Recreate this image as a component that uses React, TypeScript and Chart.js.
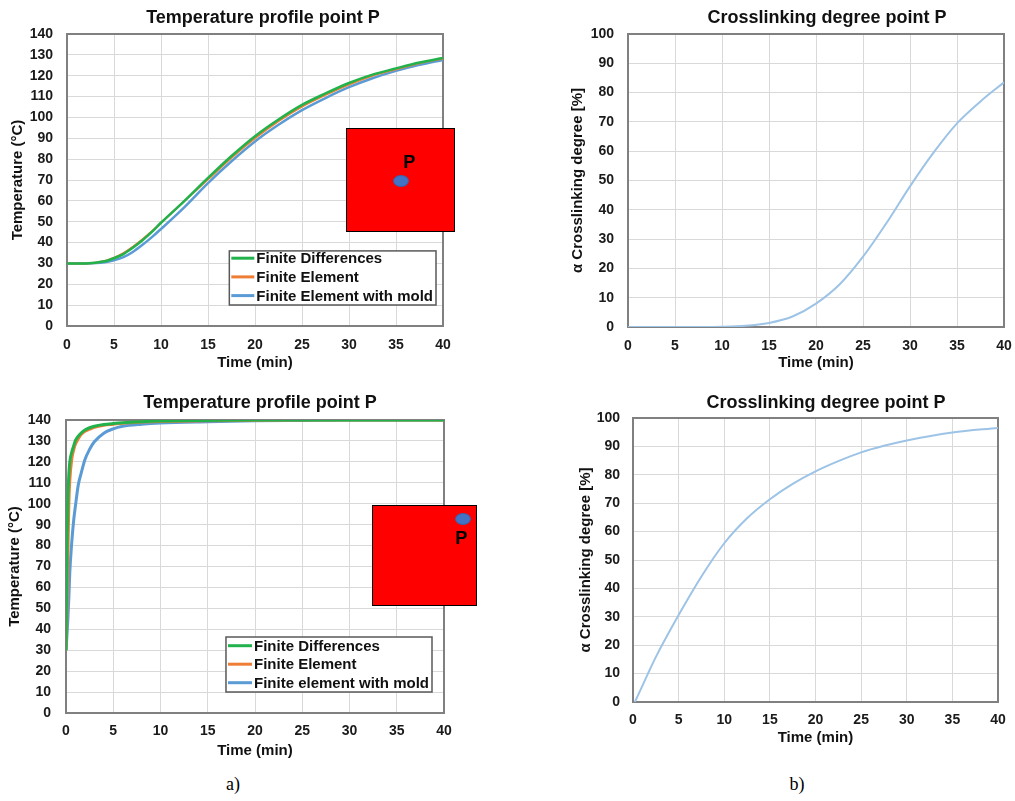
import React, { useEffect, useRef } from 'react';
import { Chart, registerables } from 'chart.js';

Chart.register(...registerables);

const FONT = '"Liberation Sans", Arial, Helvetica, sans-serif';

// ---------- a) top : temperature at inner point P ----------
const heatTimeTop = [0, 2, 4, 5, 6, 7, 8, 9, 10, 12.5, 15, 17.5, 20, 22.5, 25, 27.5, 30, 32.5, 35, 37.5, 40];
const finiteDiffTop = [30, 30, 31, 32.5, 34.5, 37.5, 41, 45, 49.5, 60, 71, 81.5, 91, 99, 106, 111.5, 116.5, 120.5, 123.5, 126.3, 128.5];
const finiteElemTop = [30, 30, 31.2, 32.8, 35, 38, 41.5, 45.3, 49.5, 60, 70.3, 80.7, 90, 98.2, 105.2, 110.8, 115.8, 120, 123.1, 126, 128.2];
const finiteMoldTop = [30, 30, 30.5, 31.5, 33, 35.5, 38.8, 42.5, 46.5, 57, 68.5, 79, 88.5, 96.5, 103.5, 109.3, 114.5, 118.8, 122.3, 125.2, 127.6];

// ---------- b) top : crosslinking degree at inner point P ----------
const cureTimeTop = [0, 5, 10, 12.5, 15, 17.5, 20, 22.5, 25, 27.5, 30, 32.5, 35, 37.5, 40];
const cureTop = [0, 0, 0.1, 0.4, 1.4, 3.6, 8, 14.5, 24, 35.5, 48, 59.5, 69.5, 77, 83.5];

// ---------- a) bottom : temperature at corner point P ----------
const heatTimeBottom = [0, 0.1, 0.2, 0.3, 0.4, 0.6, 0.8, 1, 1.3, 1.6, 2, 2.5, 3, 4, 5, 6, 8, 10, 15, 20, 25, 30, 35, 40];
const finiteDiffBottom = [30, 78, 103, 114, 120, 124.5, 127.5, 130.3, 132.3, 133.8, 135.2, 136.3, 137, 137.8, 138.3, 138.7, 139.2, 139.5, 139.8, 140, 140, 140, 140, 140];
const finiteElemBottom = [30, 50, 76, 100, 111, 121, 125.5, 128.5, 131, 133, 134.6, 135.6, 136.5, 137.5, 138, 138.5, 139, 139.3, 139.7, 139.9, 140, 140, 140, 140];
const finiteMoldBottom = [30, 37, 45, 55, 67, 81, 91.5, 99, 109, 114.5, 121, 126, 129.6, 133.7, 135.8, 137, 138, 138.6, 139.2, 139.6, 139.8, 140, 140, 140];

// ---------- b) bottom : crosslinking degree at corner point P ----------
const cureTimeBottom = [0.2, 1, 1.64, 2.5, 5, 7.5, 10, 12.5, 15, 17.5, 20, 22.5, 25, 27.5, 30, 35, 40];
const cureBottom = [0, 5.5, 10, 15.8, 30.6, 44.2, 55.9, 64.7, 71.4, 76.8, 81.2, 84.8, 87.9, 90.2, 92.1, 94.9, 96.5];

const labelsTop = ['Finite Differences', 'Finite Element', 'Finite Element with mold'];
const labelsBottom = ['Finite Differences', 'Finite Element', 'Finite element with mold'];

const GREEN = '#22b24c';
const ORANGE = '#ee7d35';
const BLUE = '#5b9bd5';
const LIGHTBLUE = '#9dc3e6';

const pts = (xs: number[], ys: number[]) => xs.map((x, i) => ({ x, y: ys[i] }));

const line = (label: string, xs: number[], ys: number[], color: string, width: number) => ({
  label,
  data: pts(xs, ys),
  borderColor: color,
  backgroundColor: color,
  borderWidth: width,
  pointRadius: 0,
  fill: false,
  cubicInterpolationMode: 'monotone' as const,
});

const framePlugin = {
  id: 'frame',
  beforeDatasetsDraw(chart: any) {
    const { ctx, chartArea: a } = chart;
    ctx.save();
    ctx.strokeStyle = '#808080';
    ctx.lineWidth = 2;
    ctx.strokeRect(a.left, a.top, a.right - a.left, a.bottom - a.top);
    ctx.restore();
  },
};

const titleShiftPlugin = {
  id: 'titleShift',
  afterLayout(chart: any, _args: any, opts: any) {
    const t = chart.titleBlock;
    const a = chart.chartArea;
    if (!t || !a) return;
    const s = (opts && opts.shift) || 0;
    t.left = a.left + s;
    t.right = a.right + s;
  },
};

const insideLegendPlugin = {
  id: 'insideLegend',
  afterDatasetsDraw(chart: any, _args: any, opts: any) {
    if (!opts || !opts.display) return;
    const { ctx, chartArea: a } = chart;
    const ds = chart.data.datasets;
    ctx.save();
    ctx.font = `bold 15px ${FONT}`;
    const tw = Math.max(...ds.map((d: any) => ctx.measureText(d.label).width));
    const w = opts.textX + tw + opts.padEnd;
    const h = opts.padTop + opts.rowH * (ds.length - 1) + opts.padBottom;
    const x1 = a.right - opts.right;
    const x0 = x1 - w;
    const y1 = a.bottom - opts.bottom;
    const y0 = y1 - h;
    ctx.fillStyle = '#ffffff';
    ctx.fillRect(x0, y0, w, h);
    ctx.strokeStyle = '#595959';
    ctx.lineWidth = 1.5;
    ctx.strokeRect(x0, y0, w, h);
    ds.forEach((d: any, i: number) => {
      const cy = y0 + opts.padTop + i * opts.rowH;
      ctx.strokeStyle = d.borderColor;
      ctx.lineWidth = 3;
      ctx.beginPath();
      ctx.moveTo(x0 + 2, cy);
      ctx.lineTo(x0 + opts.textX - 2, cy);
      ctx.stroke();
      ctx.fillStyle = '#111111';
      ctx.textBaseline = 'middle';
      ctx.textAlign = 'left';
      ctx.fillText(d.label, x0 + opts.textX, cy + 1);
    });
    ctx.restore();
  },
};

type PanelProps = {
  left: number;
  top: number;
  width: number;
  height: number;
  title: string;
  yTitle: string;
  yMax: number;
  datasets: any[];
  yWidth: number;
  xHeight: number;
  padRight: number;
  titlePad: { top: number; bottom: number };
  titleShift: number;
  yTitlePad: number;
  xTitlePad: number;
  yTickPad: number;
  xTickPad: number;
  legend?: any;
};

function Panel(p: PanelProps) {
  const ref = useRef<HTMLCanvasElement | null>(null);
  useEffect(() => {
    if (!ref.current) return;
    const tickFont = { family: FONT, size: 14, weight: 'bold' as const };
    const axisTitleFont = { family: FONT, size: 15, weight: 'bold' as const };
    const chart = new Chart(ref.current, {
      type: 'line',
      data: { datasets: p.datasets },
      plugins: [framePlugin, titleShiftPlugin, insideLegendPlugin],
      options: {
        animation: false,
        responsive: false,
        devicePixelRatio: 1,
        layout: { padding: { left: 0, right: p.padRight, top: 0, bottom: 0 } },
        plugins: {
          legend: { display: false },
          tooltip: { enabled: false },
          title: {
            display: true,
            text: p.title,
            color: '#111111',
            font: { family: FONT, size: 18, weight: 'bold' },
            padding: p.titlePad,
          },
          titleShift: { shift: p.titleShift },
          insideLegend: p.legend ? { display: true, ...p.legend } : { display: false },
        } as any,
        scales: {
          x: {
            type: 'linear',
            min: 0,
            max: 40,
            afterFit: (s: any) => {
              s.height = p.xHeight;
              s.paddingLeft = 0;
              s.paddingRight = 0;
            },
            ticks: { stepSize: 5, color: '#1a1a1a', font: tickFont, padding: p.xTickPad, maxRotation: 0 },
            grid: { color: '#d9d9d9', lineWidth: 1, drawTicks: false },
            border: { display: true, color: '#808080', width: 2 },
            title: { display: true, text: 'Time (min)', color: '#111111', font: axisTitleFont, padding: { top: 0, bottom: p.xTitlePad } },
          },
          y: {
            type: 'linear',
            min: 0,
            max: p.yMax,
            afterFit: (s: any) => {
              s.width = p.yWidth;
            },
            ticks: { stepSize: 10, color: '#1a1a1a', font: tickFont, padding: p.yTickPad },
            grid: { color: '#d9d9d9', lineWidth: 1, drawTicks: false },
            border: { display: true, color: '#808080', width: 2 },
            title: { display: true, text: p.yTitle, color: '#111111', font: axisTitleFont, padding: { top: p.yTitlePad, bottom: 0 } },
          },
        },
      },
    });
    return () => chart.destroy();
  }, []);
  return (
    <canvas
      ref={ref}
      width={p.width}
      height={p.height}
      style={{ position: 'absolute', left: p.left, top: p.top, width: p.width, height: p.height }}
    />
  );
}

function Inset(props: { left: number; top: number; w: number; h: number; dotX: number; dotY: number; pX: number; pY: number }) {
  const { left, top, w, h, dotX, dotY, pX, pY } = props;
  return (
    <div style={{ position: 'absolute', left, top, width: w, height: h, background: '#ff0000', border: '1.5px solid #000', boxSizing: 'border-box' }}>
      <div
        style={{
          position: 'absolute',
          left: dotX - 8,
          top: dotY - 6,
          width: 16,
          height: 12,
          borderRadius: '50%',
          background: '#4472c4',
          boxSizing: 'border-box',
          border: '1px solid #3a62a8',
        }}
      />
      <div
        style={{
          position: 'absolute',
          left: pX - 10,
          top: pY - 11,
          width: 20,
          height: 22,
          lineHeight: '22px',
          textAlign: 'center',
          font: `bold 18px ${FONT}`,
          color: '#000',
        }}
      >
        P
      </div>
    </div>
  );
}

export default function App() {
  const legendTop = { right: 7, bottom: 21, textX: 27, padEnd: 3, padTop: 7.3, rowH: 18.7, padBottom: 9.4 };
  const legendBottom = { right: 12, bottom: 21, textX: 28, padEnd: 3, padTop: 8.7, rowH: 18.5, padBottom: 9.3 };
  return (
    <div style={{ position: 'absolute', left: 0, top: 0, width: 1015, height: 801, background: '#ffffff', overflow: 'hidden' }}>
      <Panel
        left={0}
        top={0}
        width={465}
        height={375}
        title="Temperature profile point P"
        yTitle="Temperature (°C)"
        yMax={140}
        datasets={[
          line(labelsTop[0], heatTimeTop, finiteDiffTop, GREEN, 2.5),
          line(labelsTop[1], heatTimeTop, finiteElemTop, ORANGE, 2),
          line(labelsTop[2], heatTimeTop, finiteMoldTop, BLUE, 2.5),
        ]}
        yWidth={67}
        xHeight={49}
        padRight={22}
        titlePad={{ top: 7, bottom: 5.4 }}
        titleShift={8}
        yTitlePad={9}
        xTitlePad={3}
        yTickPad={14}
        xTickPad={11}
        legend={legendTop}
      />
      <Panel
        left={560}
        top={0}
        width={455}
        height={375}
        title="Crosslinking degree point P"
        yTitle="α Crosslinking degree [%]"
        yMax={100}
        datasets={[line('Crosslinking degree', cureTimeTop, cureTop, LIGHTBLUE, 2)]}
        yWidth={68}
        xHeight={48}
        padRight={11}
        titlePad={{ top: 7, bottom: 5.4 }}
        titleShift={11}
        yTitlePad={9}
        xTitlePad={3}
        yTickPad={14}
        xTickPad={11}
      />
      <Panel
        left={0}
        top={385}
        width={465}
        height={380}
        title="Temperature profile point P"
        yTitle="Temperature (°C)"
        yMax={140}
        datasets={[
          line(labelsBottom[0], heatTimeBottom, finiteDiffBottom, GREEN, 3),
          line(labelsBottom[1], heatTimeBottom, finiteElemBottom, ORANGE, 3),
          line(labelsBottom[2], heatTimeBottom, finiteMoldBottom, BLUE, 3),
        ]}
        yWidth={66}
        xHeight={52}
        padRight={21}
        titlePad={{ top: 7.6, bottom: 5.8 }}
        titleShift={5}
        yTitlePad={6}
        xTitlePad={5}
        yTickPad={15}
        xTickPad={10}
        legend={legendBottom}
      />
      <Panel
        left={560}
        top={385}
        width={455}
        height={370}
        title="Crosslinking degree point P"
        yTitle="α Crosslinking degree [%]"
        yMax={100}
        datasets={[line('Crosslinking degree', cureTimeBottom, cureBottom, LIGHTBLUE, 2)]}
        yWidth={73}
        xHeight={53}
        padRight={17}
        titlePad={{ top: 7.6, bottom: 3.8 }}
        titleShift={10.5}
        yTitlePad={17}
        xTitlePad={8}
        yTickPad={13}
        xTickPad={10}
      />
      <Inset left={346} top={128} w={109} h={104} dotX={54} dotY={52} pX={62} pY={34} />
      <Inset left={372} top={505} w={105} h={101} dotX={90} dotY={13} pX={88} pY={33} />
      <div style={{ position: 'absolute', left: 223, top: 774, width: 20, textAlign: 'center', font: '18px "Liberation Serif", "Times New Roman", serif', color: '#000' }}>a)</div>
      <div style={{ position: 'absolute', left: 787, top: 774, width: 20, textAlign: 'center', font: '18px "Liberation Serif", "Times New Roman", serif', color: '#000' }}>b)</div>
    </div>
  );
}
